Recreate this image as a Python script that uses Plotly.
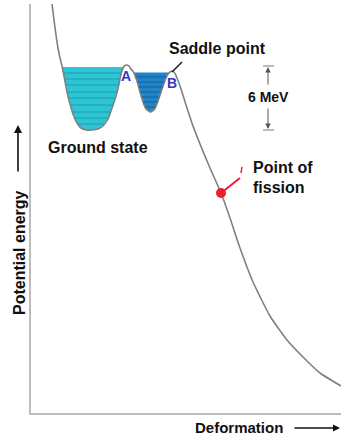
import numpy as np
import plotly.graph_objects as go

# Potential energy curve (deformation, energy) in arbitrary units
deformation = [21, 23, 25, 27, 29, 31, 33, 36, 39, 42, 46, 50, 55, 61, 67, 72, 77, 81, 85, 88,
               90, 92, 94, 96, 98, 100, 103, 106, 109, 112, 115, 119, 123, 126, 129, 132, 135,
               137, 139, 141, 143, 146, 151, 156, 162, 169, 179, 190, 199, 209, 222, 239, 256,
               276, 289, 310]
energy = [409, 393, 378, 365, 355, 347, 337, 321, 309, 299, 290, 285, 283, 283, 284, 287, 294,
          305, 317, 329, 339, 345, 347.5, 348, 347, 344, 340, 332, 321, 311, 304, 301, 303, 309,
          318, 327, 335, 339, 341, 342, 341, 335, 321, 305, 287, 269, 245, 220, 195, 165, 131,
          97, 73, 52, 40, 27]

# wells: (deformation window, fill level, stripe levels)
well1_window = (25, 96)
well1_level = 346
well1_stripes = [340, 334, 328, 321, 315, 308, 301, 295, 289]
well2_window = (98, 143)
well2_level = 340.5
well2_stripes = [336, 331, 326, 321, 316, 311, 306]

fission_point = (190, 220)

X_RANGE = [0, 310]
Y_RANGE = [0, 409]
FONT = "Liberation Sans, Arial, sans-serif"

dgrid = np.arange(deformation[0], deformation[-1] + 0.05, 0.1)
egrid = np.interp(dgrid, deformation, energy)

fig = go.Figure()


def add_well(window, level, stripes, fillcolor, stripecolor):
    m = (dgrid >= window[0]) & (dgrid <= window[1]) & (egrid <= level)
    xs = dgrid[m]
    ys = egrid[m]
    px = [xs[0]] + list(xs) + [xs[-1], xs[0]]
    py = [level] + list(ys) + [level, level]
    fig.add_trace(go.Scatter(x=px, y=py, mode="lines", fill="toself", fillcolor=fillcolor,
                             line=dict(width=0, color=fillcolor), hoverinfo="skip",
                             showlegend=False))
    for lv in stripes:
        mm = (dgrid >= window[0]) & (dgrid <= window[1]) & (egrid <= lv)
        if mm.sum() < 2:
            continue
        sx = dgrid[mm]
        fig.add_shape(type="line", x0=sx[0], x1=sx[-1], y0=lv, y1=lv, xref="x", yref="y",
                      line=dict(color=stripecolor, width=1))


add_well(well1_window, well1_level, well1_stripes, "#2fc4d4", "#1b9fb0")
add_well(well2_window, well2_level, well2_stripes, "#2184c6", "#145e9c")

fig.add_trace(go.Scatter(x=deformation, y=energy, mode="lines",
                         line=dict(color="#808080", width=1.6, shape="spline", smoothing=0.5),
                         hoverinfo="skip", showlegend=False))

# pointers
fig.add_shape(type="line", x0=141, y0=341, x1=151, y1=351, xref="x", yref="y",
              line=dict(color="#222222", width=1.6))
fig.add_shape(type="line", x0=fission_point[0], y0=fission_point[1], x1=209, y1=235,
              xref="x", yref="y", line=dict(color="#e8202a", width=2))
fig.add_shape(type="line", x0=210, y0=240, x1=211, y1=246, xref="x", yref="y",
              line=dict(color="#e8202a", width=1.5))
fig.add_trace(go.Scatter(x=[fission_point[0]], y=[fission_point[1]], mode="markers",
                         marker=dict(color="#e8202a", size=10), hoverinfo="skip",
                         showlegend=False))

# 6 MeV bracket
for yv in (347, 283):
    fig.add_shape(type="line", x0=232, x1=243, y0=yv, y1=yv, xref="x", yref="y",
                  line=dict(color="#777777", width=1))

ann = []


def px_(x):
    return x / X_RANGE[1]


def py_(y):
    return y / Y_RANGE[1]


def arrow_data(x, y, ax, ay, color, width=1.2, size=1.0):
    ann.append(dict(x=x, y=y, ax=ax, ay=ay, xref="x", yref="y", axref="x", ayref="y",
                    showarrow=True, arrowhead=2, arrowsize=size, arrowwidth=width,
                    arrowcolor=color, text=""))


def arrow_paper(x, y, dx, dy, color, width=1.4, size=1.0):
    ann.append(dict(x=px_(x), y=py_(y), ax=dx, ay=dy, xref="paper", yref="paper",
                    showarrow=True, arrowhead=2, arrowsize=size, arrowwidth=width,
                    arrowcolor=color, text=""))


arrow_data(237, 346, 237, 327, "#555555", 1, 1.1)
arrow_data(237, 284, 237, 306, "#555555", 1, 1.1)
arrow_paper(-13, 288, 0, 48, "#111111", 1.6, 1.0)
arrow_paper(309, -15, -47, 0, "#111111", 1.4, 1.0)


def text(s, x, y, size, xanchor="left", color="#111111", angle=0):
    ann.append(dict(text=s, x=px_(x), y=py_(y), xref="paper", yref="paper", showarrow=False,
                    xanchor=xanchor, yanchor="middle", textangle=angle,
                    font=dict(family=FONT, size=size, color=color, weight="bold")))


text("Saddle point", 136, 365, 16)
text("6 MeV", 237, 316, 14, "center")
text("Ground state", 15, 266, 16)
text("Point of", 220, 246, 16)
text("fission", 220, 225, 16)
text("A", 95, 337, 14, "center", "#3535c8")
text("B", 141, 330, 14, "center", "#3535c8")
text("Potential energy", -12, 160, 16, "center", angle=-90)
text("Deformation", 162, -15, 15)

fig.update_layout(
    width=341, height=441, autosize=False,
    margin=dict(l=31, r=0, t=4, b=28),
    paper_bgcolor="white", plot_bgcolor="white",
    annotations=ann,
    xaxis=dict(range=X_RANGE, showline=True, linecolor="#bdbdbd", linewidth=2,
               showgrid=False, zeroline=False, showticklabels=False, ticks="", fixedrange=True),
    yaxis=dict(range=Y_RANGE, showline=True, linecolor="#bdbdbd", linewidth=2,
               showgrid=False, zeroline=False, showticklabels=False, ticks="", fixedrange=True),
    showlegend=False,
)

fig.write_html("out.html", config={"displayModeBar": False},
               post_script="document.body.style.margin='0px';")
